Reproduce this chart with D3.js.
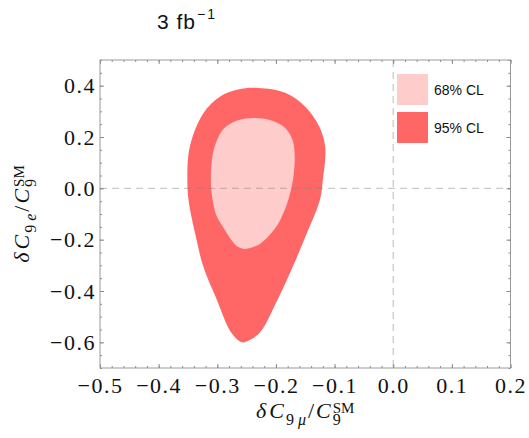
<!DOCTYPE html>
<html>
<head>
<meta charset="utf-8">
<script src="https://cdn.jsdelivr.net/npm/d3@7"></script>
<style>
  body { margin: 0; background: #fff; }
  .tick text { font-family: "Liberation Serif", serif; font-size: 22px; letter-spacing: 1.5px; fill: #111; }
</style>
</head>
<body>
<div id="chart"></div>
<script>
// contour of the 95% CL region (delta C9mu / C9SM, delta C9e / C9SM)
const outerX = [-0.230, -0.184, -0.150, -0.126, -0.116, -0.120, -0.125, -0.147, -0.171, -0.197, -0.227, -0.244, -0.258,
                -0.276, -0.301, -0.324, -0.338, -0.349, -0.351, -0.347, -0.324, -0.295, -0.265];
const outerY = [0.391, 0.372, 0.318, 0.240, 0.161, 0.032, -0.045, -0.173, -0.304, -0.433, -0.561, -0.590, -0.600,
                -0.563, -0.433, -0.304, -0.173, -0.045, 0.032, 0.161, 0.292, 0.358, 0.385];

// contour of the 68% CL region
const innerX = [-0.236, -0.205, -0.183, -0.172, -0.168, -0.171, -0.179, -0.188, -0.199, -0.216, -0.233, -0.253,
                -0.264, -0.275, -0.290, -0.301, -0.308, -0.311, -0.308, -0.300, -0.289, -0.266];
const innerY = [0.274, 0.262, 0.232, 0.190, 0.130, 0.032, -0.045, -0.100, -0.149, -0.194, -0.224, -0.236,
                -0.229, -0.204, -0.152, -0.108, -0.045, 0.032, 0.130, 0.190, 0.232, 0.264];

const xTicks = [-0.5, -0.4, -0.3, -0.2, -0.1, 0.0, 0.1, 0.2];
const yTicks = [-0.6, -0.4, -0.2, 0.0, 0.2, 0.4];
const legendLabels = ["68% CL", "95% CL"];
const legendColors = ["#ffcccc", "#ff6666"];

function drawChart() {
    const width = 529, height = 438;
    const margin = {top: 60, right: 18.5, bottom: 70, left: 100};
    const w = width - margin.left - margin.right;
    const h = height - margin.top - margin.bottom;

    const svg = d3.select("#chart")
        .append("svg")
        .attr("width", width)
        .attr("height", height);

    const g = svg.append("g")
        .attr("transform", `translate(${margin.left},${margin.top})`);

    const x = d3.scaleLinear().domain([-0.5, 0.2]).range([0, w]);
    const y = d3.scaleLinear().domain([-0.7, 0.5]).range([h, 0]);

    const line = d3.line()
        .x(d => x(d[0]))
        .y(d => y(d[1]))
        .curve(d3.curveCatmullRomClosed.alpha(0.5));

    const outer = outerX.map((v, i) => [v, outerY[i]]);
    const inner = innerX.map((v, i) => [v, innerY[i]]);

    g.append("path").attr("d", line(outer)).attr("fill", legendColors[1]);
    g.append("path").attr("d", line(inner)).attr("fill", legendColors[0]);

    // dashed zero lines
    g.append("line")
        .attr("x1", x(0)).attr("x2", x(0)).attr("y1", 0).attr("y2", h)
        .attr("stroke", "rgba(128,128,128,0.4)").attr("stroke-width", 1.3)
        .attr("stroke-dasharray", "7,5");
    g.append("line")
        .attr("x1", 0).attr("x2", w).attr("y1", y(0)).attr("y2", y(0))
        .attr("stroke", "rgba(128,128,128,0.4)").attr("stroke-width", 1.3)
        .attr("stroke-dasharray", "7,5");

    const fmt = d3.format(".1f");
    const xMinor = d3.range(-25, 11).map(i => +(i * 0.02).toFixed(2));
    const yMinor = d3.range(-14, 11).map(i => +(i * 0.05).toFixed(2));

    function styleAxis(sel) {
        sel.select(".domain").remove();
        sel.selectAll(".tick line").attr("stroke", "#888");
    }

    // major ticks with labels
    g.append("g").attr("transform", `translate(0,${h})`)
        .call(d3.axisBottom(x).tickValues(xTicks).tickFormat(fmt).tickSizeInner(-4).tickSizeOuter(0).tickPadding(9.5))
        .call(styleAxis);
    g.append("g")
        .call(d3.axisLeft(y).tickValues(yTicks).tickFormat(fmt).tickSizeInner(-4).tickSizeOuter(0).tickPadding(4))
        .call(styleAxis);
    // mirrored majors on top / right
    g.append("g")
        .call(d3.axisTop(x).tickValues(xTicks).tickFormat("").tickSizeInner(-4).tickSizeOuter(0))
        .call(styleAxis);
    g.append("g").attr("transform", `translate(${w},0)`)
        .call(d3.axisRight(y).tickValues(yTicks).tickFormat("").tickSizeInner(-4).tickSizeOuter(0))
        .call(styleAxis);
    // minor ticks
    g.append("g").attr("transform", `translate(0,${h})`)
        .call(d3.axisBottom(x).tickValues(xMinor).tickFormat("").tickSizeInner(-2).tickSizeOuter(0))
        .call(styleAxis);
    g.append("g")
        .call(d3.axisTop(x).tickValues(xMinor).tickFormat("").tickSizeInner(-2).tickSizeOuter(0))
        .call(styleAxis);
    g.append("g")
        .call(d3.axisLeft(y).tickValues(yMinor).tickFormat("").tickSizeInner(-2).tickSizeOuter(0))
        .call(styleAxis);
    g.append("g").attr("transform", `translate(${w},0)`)
        .call(d3.axisRight(y).tickValues(yMinor).tickFormat("").tickSizeInner(-2).tickSizeOuter(0))
        .call(styleAxis);

    // frame
    g.append("rect")
        .attr("width", w).attr("height", h)
        .attr("fill", "none").attr("stroke", "#999").attr("stroke-width", 1);

    // legend
    const leg = g.selectAll(".leg")
        .data(legendLabels)
        .enter()
        .append("g")
        .attr("class", "leg")
        .attr("transform", (d, i) => `translate(${297},${14 + i * 38})`);
    leg.append("rect")
        .attr("width", 31).attr("height", 31)
        .attr("fill", (d, i) => legendColors[i]);
    leg.append("text")
        .attr("x", 37).attr("y", 21)
        .style("font-family", "Liberation Sans, Arial, sans-serif")
        .style("font-size", "14px")
        .style("fill", "#111")
        .text(d => d);

    // title
    const title = svg.append("text")
        .attr("x", 157).attr("y", 28.5)
        .style("font-family", "Liberation Sans, Arial, sans-serif")
        .style("font-size", "21px")
        .style("letter-spacing", "1px")
        .style("fill", "#111")
        .text("3 fb");
    title.append("tspan").attr("dx", 1).attr("dy", -10).style("font-size", "14px").style("letter-spacing", "2px").text("\u22121");

    // axis labels
    function axisLabel(sel, mid) {
        sel.style("font-family", "Liberation Serif, serif").style("font-size", "22px").style("fill", "#111");
        sel.append("tspan").style("font-style", "italic").text("\u03b4");
        sel.append("tspan").attr("dx", 3).style("font-style", "italic").text("C");
        sel.append("tspan").attr("dx", 2).attr("dy", 7).style("font-size", "16px").text("9");
        sel.append("tspan").attr("dx", 4).style("font-size", "16px").style("font-style", "italic").text(mid);
        sel.append("tspan").attr("dx", 2).attr("dy", -7).text("/");
        sel.append("tspan").attr("dx", 2).style("font-style", "italic").text("C");
        sel.append("tspan").attr("dx", 2).attr("dy", 7).style("font-size", "16px").text("9");
        sel.append("tspan").attr("dx", -8).attr("dy", -12).style("font-size", "15px").text("SM");
    }

    svg.append("text")
        .attr("x", margin.left + w / 2).attr("y", 418)
        .attr("text-anchor", "middle")
        .call(axisLabel, "\u03bc");

    svg.append("text")
        .attr("transform", `translate(29,${margin.top + h / 2}) rotate(-90)`)
        .attr("text-anchor", "middle")
        .call(axisLabel, "e");
}

drawChart();
</script>
</body>
</html>
